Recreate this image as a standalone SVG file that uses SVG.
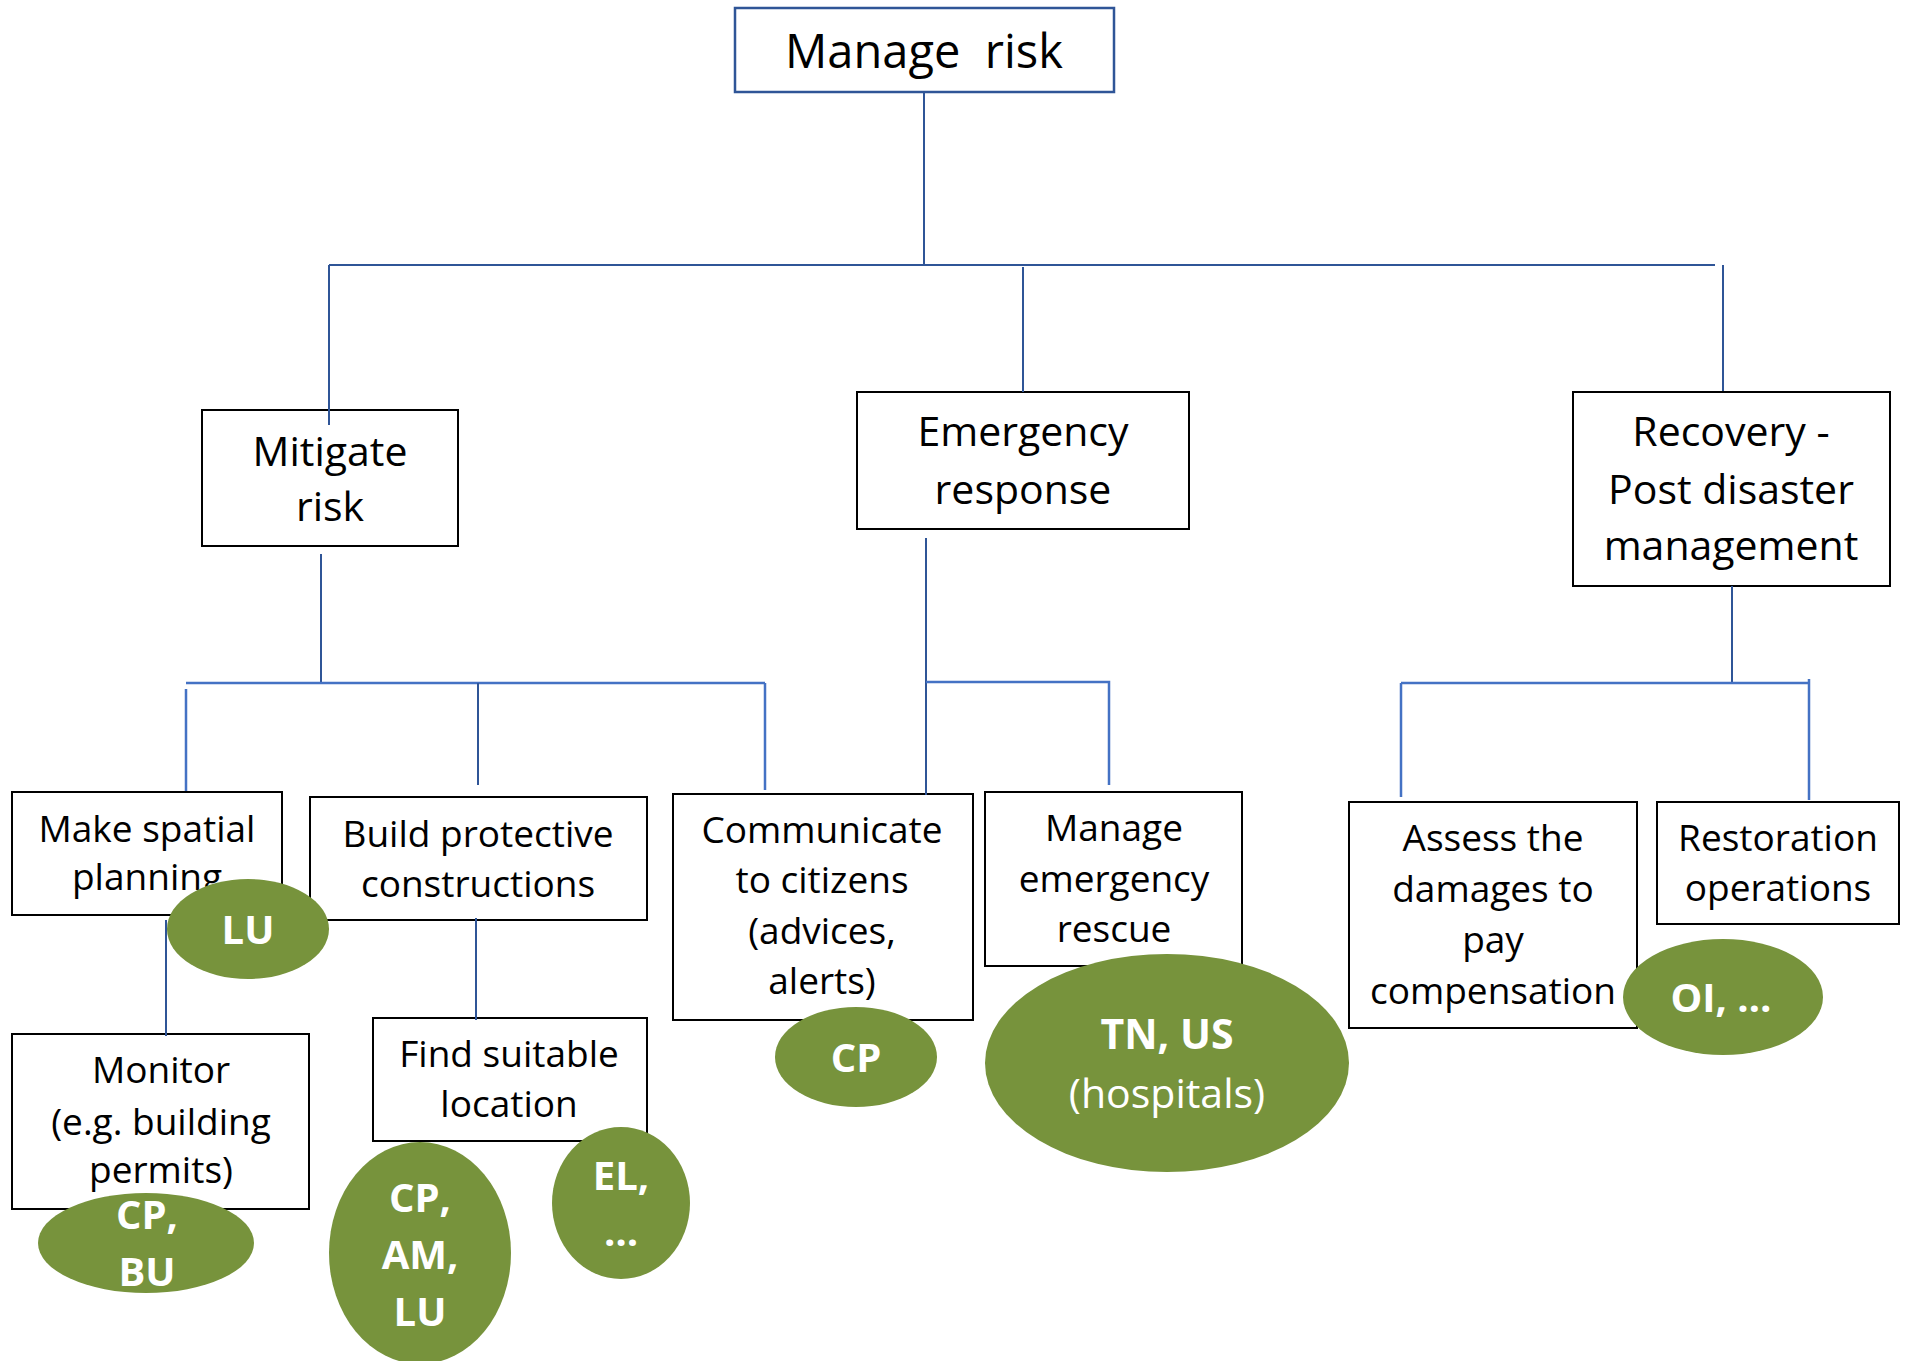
<svg xmlns="http://www.w3.org/2000/svg" width="1905" height="1361" viewBox="0 0 1905 1361">
<style>
.box{fill:#ffffff;stroke:#000000;stroke-width:2}
.top{fill:#ffffff;stroke:#2F5597;stroke-width:2.5}
.t1{font-family:"Open Sans","Liberation Sans",sans-serif;font-size:47px;fill:#000;text-anchor:middle}
.t2{font-family:"Open Sans","Liberation Sans",sans-serif;font-size:41px;fill:#000;text-anchor:middle}
.t3{font-family:"Open Sans","Liberation Sans",sans-serif;font-size:37px;fill:#000;text-anchor:middle}
.ell{fill:#77933C}
.et{font-family:"Open Sans","Liberation Sans",sans-serif;font-size:40px;font-weight:bold;fill:#ffffff;text-anchor:middle}
.etl{font-family:"Open Sans","Liberation Sans",sans-serif;font-size:41px;fill:#ffffff;text-anchor:middle}
.cn{stroke:#2F5597;stroke-width:2;fill:none}
.cm{stroke:#4472C4;stroke-width:2.5;fill:none}
</style>
<rect width="1905" height="1361" fill="#ffffff"/>

<g id="n-manage-risk">
<rect class="top" x="735" y="8" width="379" height="84"/>
<text class="t1" x="924" y="68" xml:space="preserve">Manage  risk</text>
</g>
<g id="n-mitigate">
<rect class="box" x="202" y="410" width="256" height="136"/>
<text class="t2" x="330" y="466">Mitigate</text>
<text class="t2" x="330" y="521">risk</text>
</g>
<g id="n-emergency">
<rect class="box" x="857" y="392" width="332" height="137"/>
<text class="t2" x="1023" y="446">Emergency</text>
<text class="t2" x="1023" y="504">response</text>
</g>
<g id="n-recovery">
<rect class="box" x="1573" y="392" width="317" height="194"/>
<text class="t2" x="1731" y="446">Recovery -</text>
<text class="t2" x="1731" y="504">Post disaster</text>
<text class="t2" x="1731" y="560">management</text>
</g>
<g id="n-spatial">
<rect class="box" x="12" y="792" width="270" height="123"/>
<text class="t3" x="147" y="842">Make spatial</text>
<text class="t3" x="147" y="890">planning</text>
</g>
<g id="n-build">
<rect class="box" x="310" y="797" width="337" height="123"/>
<text class="t3" x="478" y="847">Build protective</text>
<text class="t3" x="478" y="897">constructions</text>
</g>
<g id="n-communicate">
<rect class="box" x="673" y="794" width="300" height="226"/>
<text class="t3" x="822" y="843">Communicate</text>
<text class="t3" x="822" y="893">to citizens</text>
<text class="t3" x="822" y="944">(advices,</text>
<text class="t3" x="822" y="994">alerts)</text>
</g>
<g id="n-rescue">
<rect class="box" x="985" y="792" width="257" height="174"/>
<text class="t3" x="1114" y="841">Manage</text>
<text class="t3" x="1114" y="892">emergency</text>
<text class="t3" x="1114" y="942">rescue</text>
</g>
<g id="n-assess">
<rect class="box" x="1349" y="802" width="288" height="226"/>
<text class="t3" x="1493" y="851">Assess the</text>
<text class="t3" x="1493" y="902">damages to</text>
<text class="t3" x="1493" y="953">pay</text>
<text class="t3" x="1493" y="1004">compensation</text>
</g>
<g id="n-restoration">
<rect class="box" x="1657" y="802" width="242" height="122"/>
<text class="t3" x="1778" y="851">Restoration</text>
<text class="t3" x="1778" y="901">operations</text>
</g>
<g id="n-monitor">
<rect class="box" x="12" y="1034" width="297" height="175"/>
<text class="t3" x="161" y="1083">Monitor</text>
<text class="t3" x="161" y="1135">(e.g. building</text>
<text class="t3" x="161" y="1183">permits)</text>
</g>
<g id="n-find">
<rect class="box" x="373" y="1018" width="274" height="123"/>
<text class="t3" x="509" y="1067">Find suitable</text>
<text class="t3" x="509" y="1117">location</text>
</g>

<g id="connectors">
<path class="cn" d="M924 92 V266"/>
<path class="cn" stroke-width="3" d="M329 265 H1715"/>
<path class="cn" d="M329 265 V425 M1023 267 V392 M1723 265 V391"/>
<path class="cn" d="M321 554 V683"/>
<path class="cm" d="M186 683 H765 M186 689 V791 M765 683 V790"/>
<path class="cn" stroke-width="3" d="M478 683 V785"/>
<path class="cn" d="M926 538 V795"/>
<path class="cm" d="M926 682 H1109 V785"/>
<path class="cn" stroke="#7F9CC8" d="M1732 586 V683"/>
<path class="cm" d="M1401 683 H1809 M1401 683 V797 M1809 679 V800"/>
<path class="cn" d="M166 920 V1036"/>
<path class="cn" d="M476 918 V1020"/>
</g>

<g id="n-lu">
<ellipse class="ell" cx="248" cy="929" rx="81" ry="50"/>
<text class="et" x="248" y="944">LU</text>
</g>
<g id="n-cp-bu">
<ellipse class="ell" cx="146" cy="1243" rx="108" ry="50"/>
<text class="et" x="147" y="1229">CP,</text>
<text class="et" x="147" y="1286">BU</text>
</g>
<g id="n-cp-am-lu">
<ellipse class="ell" cx="420" cy="1253" rx="91" ry="111"/>
<text class="et" x="420" y="1212">CP,</text>
<text class="et" x="420" y="1269">AM,</text>
<text class="et" x="420" y="1326">LU</text>
</g>
<g id="n-el">
<ellipse class="ell" cx="621" cy="1203" rx="69" ry="76"/>
<text class="et" x="621" y="1190">EL,</text>
<text class="et" x="621" y="1246">…</text>
</g>
<g id="n-cp">
<ellipse class="ell" cx="856" cy="1057" rx="81" ry="50"/>
<text class="et" x="856" y="1072">CP</text>
</g>
<g id="n-tn-us">
<ellipse class="ell" cx="1167" cy="1063" rx="182" ry="109"/>
<text class="et" style="font-size:41px" x="1167" y="1049">TN, US</text>
<text class="etl" x="1167" y="1108">(hospitals)</text>
</g>
<g id="n-oi">
<ellipse class="ell" cx="1723" cy="997" rx="100" ry="58"/>
<text class="et" x="1721" y="1012">OI, …</text>
</g>
</svg>
